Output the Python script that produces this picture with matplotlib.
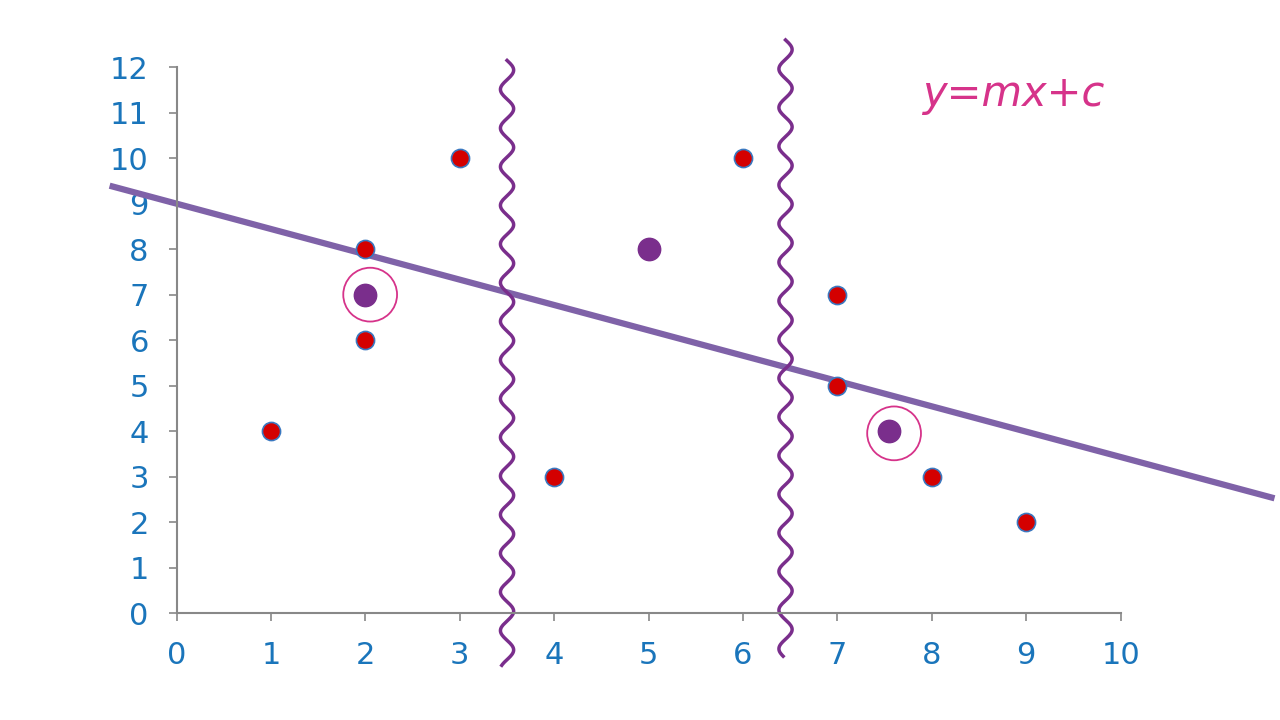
import numpy as np
import matplotlib
matplotlib.use('Agg')
import matplotlib.pyplot as plt

BLUE = '#1a75bb'
RED = '#d40000'
PURPLE = '#7a2e8c'
LINE = '#7f62a8'
PINK = '#d6338a'

# data points
red_x = [1, 2, 2, 3, 4, 6, 7, 7, 8, 9]
red_y = [4, 8, 6, 10, 3, 10, 7, 5, 3, 2]
purple_x = [2, 5, 7.55]
purple_y = [7, 8, 4]
circled_x = [2.05, 7.6]
circled_y = [7.0, 3.95]

# fitted line y = m x + c
m, c = -0.557, 9.0
line_x = [-0.71, 11.63]

# wavy separators (x centre, y top, y bottom)
waves = [(3.5, 12.15, -1.15), (6.45, 12.6, -0.95)]

fig = plt.figure(figsize=(12.8, 7.2), dpi=100, facecolor='white')
ax = fig.add_axes([0.138, 0.1486, 0.7375, 0.758])
ax.set_xlim(0, 10)
ax.set_ylim(0, 12)
for s in ['top', 'right']:
    ax.spines[s].set_visible(False)
for s in ['left', 'bottom']:
    ax.spines[s].set_color('#888888')
    ax.spines[s].set_linewidth(1.5)
ax.set_xticks(range(11))
ax.set_yticks(range(13))
ax.tick_params(axis='both', colors='#888888', length=6, width=1.2,
               labelcolor=BLUE, labelsize=22, pad=14)

# fitted line
ax.plot(line_x, [m * x + c for x in line_x], color=LINE, lw=4.5,
        clip_on=False, zorder=2, solid_capstyle='butt')

# wavy lines
for xc, yt, yb in waves:
    yy = np.linspace(yt, yb, 600)
    xx = xc + 0.07 * np.sin((yt - yy) * 2 * np.pi / 0.85)
    ax.plot(xx, yy, color=PURPLE, lw=2.5, clip_on=False, zorder=2)

ax.scatter(red_x, red_y, s=170, color=RED, edgecolor='#3a78c0',
           linewidth=1.2, zorder=4, clip_on=False)
ax.scatter(purple_x, purple_y, s=260, color=PURPLE, zorder=4)
ax.scatter(circled_x, circled_y, s=1500, facecolor='none',
           edgecolor=PINK, linewidth=1.3, zorder=3)

fig.text(0.72, 0.87, 'y=mx+c', color=PINK, fontsize=30,
         ha='left', va='center', style='italic')

fig.savefig('out.png', dpi=100, facecolor='white')
